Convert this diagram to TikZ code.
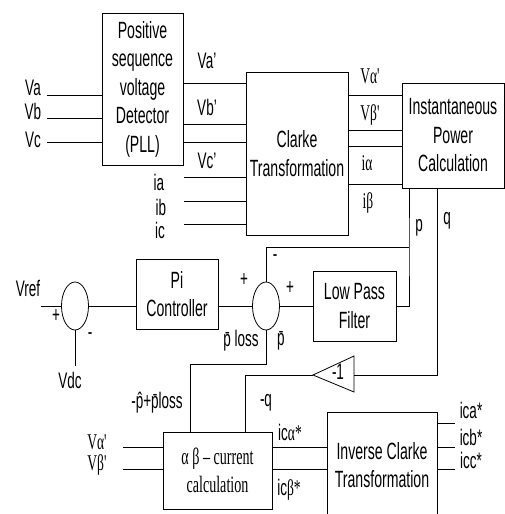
\documentclass[tikz,border=0pt]{standalone}
\usepackage{fontspec}
\setmainfont{Liberation Sans}[FakeStretch=0.6]
\newfontfamily\tms{Liberation Serif}[FakeStretch=0.6]
\usetikzlibrary{shapes.geometric}
\newcommand\bxf{\fontsize{23.5}{28.5}\selectfont}
\newcommand\lbf{\fontsize{22.5}{25}\selectfont}
\begin{document}
\begin{tikzpicture}[x=1pt,y=-1pt,
  box/.style={draw, line width=0.8pt, inner sep=0pt, align=center, font=\bxf},
  sum/.style={draw, ellipse, line width=0.8pt, inner sep=0pt, minimum width=27pt, minimum height=48pt},
  lab/.style={inner sep=0pt, font=\lbf},
  wire/.style={line width=0.8pt}]
\useasboundingbox (0,0) rectangle (505,514);

% blocks
\node[box, minimum width=81pt, minimum height=152pt] (pll) at (142.5,89) {Positive\\sequence\\voltage\\Detector\\(PLL)};
\node[box, minimum width=102pt, minimum height=163pt] (clarke) at (297,153.5) {Clarke\\Transformation};
\node[box, minimum width=102pt, minimum height=105pt] (ipc) at (453,135.5) {Instantaneous\\Power\\Calculation};
\node[box, minimum width=82pt, minimum height=70pt] (pi) at (177,294) {Pi\\Controller};
\node[box, minimum width=83pt, minimum height=70pt] (lpf) at (354.5,306) {Low Pass\\Filter};
\node[box, minimum width=109pt, minimum height=77pt, font=\bxf\tms] (ab) at (217.5,470.5) {α β – current\\calculation};
\node[box, minimum width=110pt, minimum height=106pt] (ic) at (382,465) {Inverse Clarke\\Transformation};
\node[sum] (s1) at (75,306) {};
\node[sum] (s2) at (266,306) {};

% gain triangle
\coordinate (tA) at (313,375);
\coordinate (tR) at (354,375);
\draw[wire] (tA) -- (354,356) -- (354,392) -- cycle;
\node[lab] (gain) at (338,372) {-1};

% PLL inputs
\coordinate (va) at (47,95);
\coordinate (vb) at (47,118);
\coordinate (vc) at (47,142);
\draw[wire] (va) -- (va -| pll.west);
\draw[wire] (vb) -- (vb -| pll.west);
\draw[wire] (vc) -- (vc -| pll.west);
\node[lab] (lva) at (33,88) {Va};
\node[lab] (lvb) at (33,111) {Vb};
\node[lab] (lvc) at (33,140) {Vc};

% PLL outputs to Clarke
\draw[wire] (pll.east |- 0,83) -- (clarke.west |- 0,83);
\draw[wire] (pll.east |- 0,124) -- (clarke.west |- 0,124);
\draw[wire] (pll.east |- 0,142) -- (clarke.west |- 0,142);
\node[lab] (lva2) at (207,61) {Va'};
\node[lab] (lvb2) at (207,107) {Vb'};
\node[lab] (lvc2) at (207,161) {Vc'};

% currents to Clarke
\coordinate (ia) at (184,177);
\coordinate (ib) at (184,201);
\coordinate (ic0) at (184,224);
\draw[wire] (ia) -- (ia -| clarke.west);
\draw[wire] (ib) -- (ib -| clarke.west);
\draw[wire] (ic0) -- (ic0 -| clarke.west);
\node[lab] (lia) at (159,182) {ia};
\node[lab] (lib) at (161,207) {ib};
\node[lab] (lic) at (160,230) {ic};

% Clarke outputs to IPC
\draw[wire] (clarke.east |- 0,95) -- (ipc.west |- 0,95);
\draw[wire] (clarke.east |- 0,130) -- (ipc.west |- 0,130);
\draw[wire] (clarke.east |- 0,146) -- (ipc.west |- 0,146);
\draw[wire] (clarke.east |- 0,184) -- (ipc.west |- 0,184);
\node[lab, font=\lbf\tms] (lval) at (370,76) {Vα'};
\node[lab, font=\lbf\tms] (lvbe) at (370,115) {Vβ'};
\node[lab, font=\lbf\tms] (lial) at (367,163) {iα};
\node[lab, font=\lbf\tms] (libe) at (368,203) {iβ};

% p and q
\coordinate (pj) at (409,247);
\draw[wire] (ipc.south -| pj) -- (pj) |- (lpf.east);
\draw[wire] (pj) -| (s2.north);
\node[lab] (lp) at (419,228) {p};
\coordinate (qc) at (437,375);
\draw[wire] (ipc.south -| qc) -- (qc) -- (tR);
\node[lab] (lq) at (447,221) {q};

% DC loop
\coordinate (vref) at (41,306);
\draw[wire] (vref) -- (s1.west);
\coordinate (vdc) at (75,366);
\draw[wire] (s1.south) -- (vdc);
\draw[wire] (s1.east) -- (pi.west |- s1.east);
\draw[wire] (pi.east |- s2.west) -- (s2.west);
\draw[wire] (s2.east) -- (lpf.west);
\node[lab] (lvref) at (28,288) {Vref};
\node[lab] (lvdc) at (70,380) {Vdc};
\node[lab] (lp1) at (56,316) {+};
\node[lab] (lm1) at (90,336) {-};
\node[lab] (lp2) at (244,280) {+};
\node[lab] (lp3) at (290,288) {+};
\node[lab] (lm2) at (275,258) {-};
\node[lab] (lploss) at (241,341) {\={p} loss};
\node[lab] (lpbar) at (281,341) {\={p}};

% to alpha-beta block
\coordinate (pb) at (266,364);
\coordinate (pl) at (190,364);
\draw[wire] (s2.south) -- (pb) -- (pl) -- (pl |- ab.north);
\node[lab] (lpl2) at (157,403) {-\^{p}+\={p}loss};
\coordinate (qL) at (245,375);
\draw[wire] (tA) -- (qL) -- (qL |- ab.north);
\node[lab] (lmq) at (266,403) {-q};

% alpha-beta inputs
\coordinate (vai) at (123,447);
\coordinate (vbi) at (123,469);
\draw[wire] (vai) -- (vai -| ab.west);
\draw[wire] (vbi) -- (vbi -| ab.west);
\node[lab, font=\lbf\tms] (lvai) at (97,442) {Vα'};
\node[lab, font=\lbf\tms] (lvbi) at (97,465) {Vβ'};

% alpha-beta to inverse Clarke
\draw[wire] (ab.east |- vai) -- (ic.west |- vai);
\draw[wire] (ab.east |- vbi) -- (ic.west |- vbi);
\node[lab] (licA) at (290,432) {ic{\tms α*}};
\node[lab] (licB) at (289,490) {ic{\tms β*}};

% outputs
\coordinate (oa) at (455,423);
\coordinate (ob) at (455,447);
\coordinate (oc) at (455,469);
\draw[wire] (ic.east |- oa) -- (oa);
\draw[wire] (ic.east |- ob) -- (ob);
\draw[wire] (ic.east |- oc) -- (oc);
\node[lab] (lica) at (471,410) {ica*};
\node[lab] (licb) at (471,437) {icb*};
\node[lab] (licc) at (471,460) {icc*};
\end{tikzpicture}
\end{document}
